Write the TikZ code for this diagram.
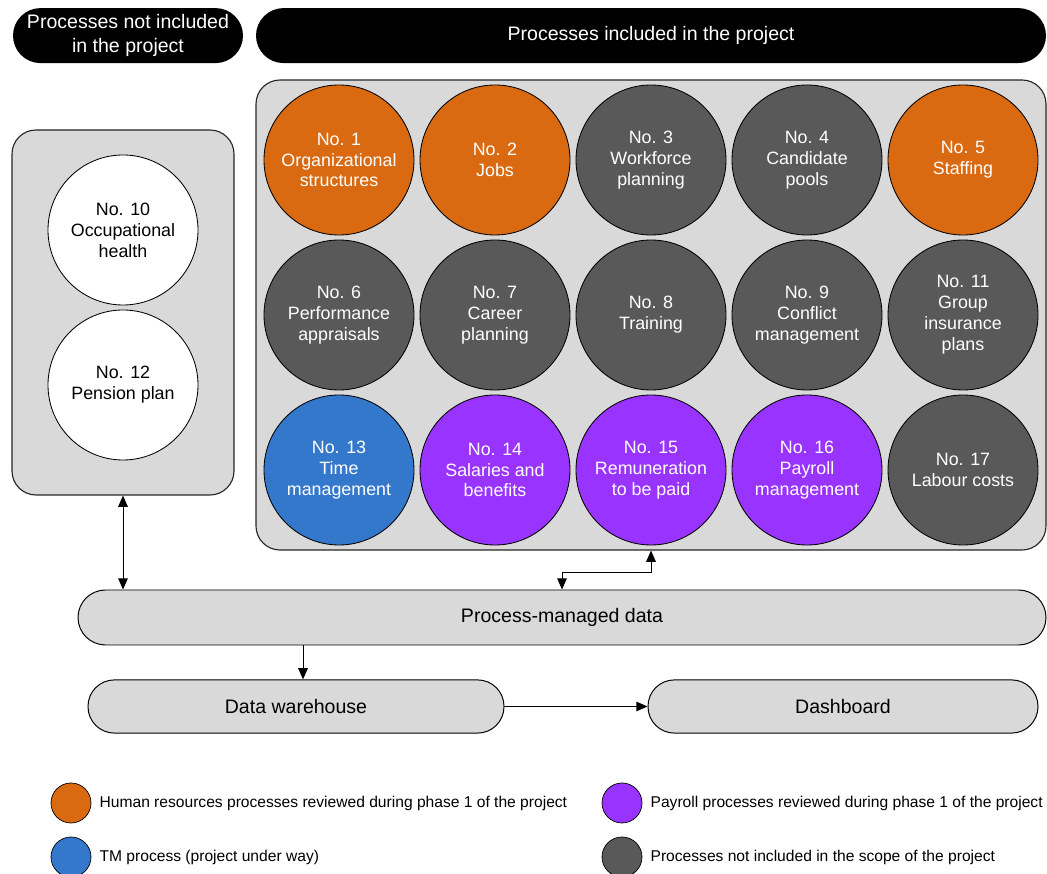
\documentclass[tikz,border=0pt]{standalone}
\usepackage{fontspec}
\setmainfont{Liberation Sans}
\usetikzlibrary{arrows.meta, positioning}
\definecolor{hrorange}{RGB}{217, 106, 18}
\definecolor{payviolet}{RGB}{153, 51, 255}
\definecolor{tmblue}{RGB}{52, 120, 204}
\definecolor{outgrey}{RGB}{89, 89, 89}
\definecolor{panelgrey}{RGB}{217, 217, 217}

\begin{document}
\begin{tikzpicture}[
  proc/.style={circle, draw=black, line width=0.6pt, minimum size=3.75cm, inner sep=0pt,
    align=center, text=white, font=\fontsize{12.7}{14.9}\selectfont},
  hrproc/.style={proc, fill=hrorange},
  payproc/.style={proc, fill=payviolet},
  tmproc/.style={proc, fill=tmblue},
  outproc/.style={proc, fill=outgrey},
  exclproc/.style={proc, fill=white, text=black},
  header/.style={fill=black, text=white, rounded corners=0.6875cm, minimum height=1.375cm,
    inner sep=0pt, align=center, font=\fontsize{13.9}{17}\selectfont},
  panel/.style={draw=black!85, fill=panelgrey, rounded corners=0.6cm, line width=0.8pt, inner sep=0pt},
  store/.style={draw=black, fill=panelgrey, line width=0.7pt, inner sep=0pt,
    font=\fontsize{13.9}{17}\selectfont},
  key/.style={circle, draw=black, line width=0.5pt, minimum width=0.95cm, minimum height=1cm, inner sep=0pt},
  keytext/.style={anchor=west, inner sep=0pt, font=\fontsize{11.1}{13}\selectfont},
  link/.style={line width=0.7pt, {Triangle[length=2.8mm, width=2.4mm]}-{Triangle[length=2.8mm, width=2.4mm]}},
  flow/.style={line width=0.7pt, -{Triangle[length=2.8mm, width=2.4mm]}}
]
  \useasboundingbox (0, 0) rectangle (26.175, 21.85);

  % headers
  \node[header, minimum width=5.75cm] (hdrout) at (3.2, 20.96) {Processes not included\\in the project};
  \node[header, minimum width=19.75cm] (hdrin) at (16.275, 20.96) {Processes included in the project};

  % grey panels behind the process circles
  \node[panel, minimum width=5.55cm, minimum height=9.125cm] (notinc) at (3.075, 14.0375) {};
  \node[panel, minimum width=19.75cm, minimum height=11.75cm] (inc) at (16.275, 13.975) {};

  % processes outside the project
  \node[exclproc] (p10) at (3.075, 16.1) {No. 10\\Occupational\\health};
  \node[exclproc] (p12) at (3.075, 12.225) {No. 12\\Pension plan};

  % processes in the project, row by row
  \node[hrproc]  (p1)  at (8.475, 17.85)  {No. 1\\Organizational\\structures};
  \node[hrproc]  (p2)  at (12.375, 17.85) {No. 2\\Jobs};
  \node[outproc] (p3)  at (16.275, 17.85) {No. 3\\Workforce\\planning};
  \node[outproc] (p4)  at (20.175, 17.85) {No. 4\\Candidate\\pools};
  \node[hrproc]  (p5)  at (24.075, 17.85) {No. 5\\Staffing};

  \node[outproc] (p6)  at (8.475, 13.975)  {No. 6\\Performance\\appraisals};
  \node[outproc] (p7)  at (12.375, 13.975) {No. 7\\Career\\planning};
  \node[outproc] (p8)  at (16.275, 13.975) {No. 8\\Training};
  \node[outproc] (p9)  at (20.175, 13.975) {No. 9\\Conflict\\management};
  \node[outproc] (p11) at (24.075, 13.975) {No. 11\\Group\\insurance\\plans};

  \node[tmproc]  (p13) at (8.475, 10.1)  {No. 13\\Time\\management};
  \node[payproc] (p14) at (12.375, 10.1) {No. 14\\Salaries and\\benefits};
  \node[payproc] (p15) at (16.275, 10.1) {No. 15\\Remuneration\\to be paid};
  \node[payproc] (p16) at (20.175, 10.1) {No. 16\\Payroll\\management};
  \node[outproc] (p17) at (24.075, 10.1) {No. 17\\Labour costs};

  % data layer
  \node[store, rounded corners=0.6875cm, minimum width=24.2cm, minimum height=1.375cm] (pmd) at (14.05, 6.4125) {Process-managed data};
  \node[store, rounded corners=0.66cm, minimum width=10.4cm, minimum height=1.33cm] (dw) at (7.4, 4.1875) {Data warehouse};
  \node[store, rounded corners=0.66cm, minimum width=9.75cm, minimum height=1.33cm] (dash) at (21.075, 4.1875) {Dashboard};

  \draw[link] (notinc.south) -- (notinc.south |- pmd.north);
  \draw[link] (pmd.north) -- ++(0, 0.425) -| (inc.south);
  \draw[flow] ([xshift=0.175cm]pmd.south -| dw.north) -- ([xshift=0.175cm]dw.north);
  \draw[flow] (dw.east) -- (dash.west);

  % legend
  \node[key, fill=hrorange] (khr) at (1.775, 1.775) {};
  \node[keytext, right=0.2cm of khr] {Human resources processes reviewed during phase 1 of the project};
  \node[key, fill=payviolet] (kpay) at (15.55, 1.775) {};
  \node[keytext, right=0.2cm of kpay] {Payroll processes reviewed during phase 1 of the project};
  \node[key, fill=tmblue] (ktm) at (1.775, 0.425) {};
  \node[keytext, right=0.2cm of ktm] {TM process (project under way)};
  \node[key, fill=outgrey] (kout) at (15.55, 0.425) {};
  \node[keytext, right=0.2cm of kout] {Processes not included in the scope of the project};
\end{tikzpicture}
\end{document}
